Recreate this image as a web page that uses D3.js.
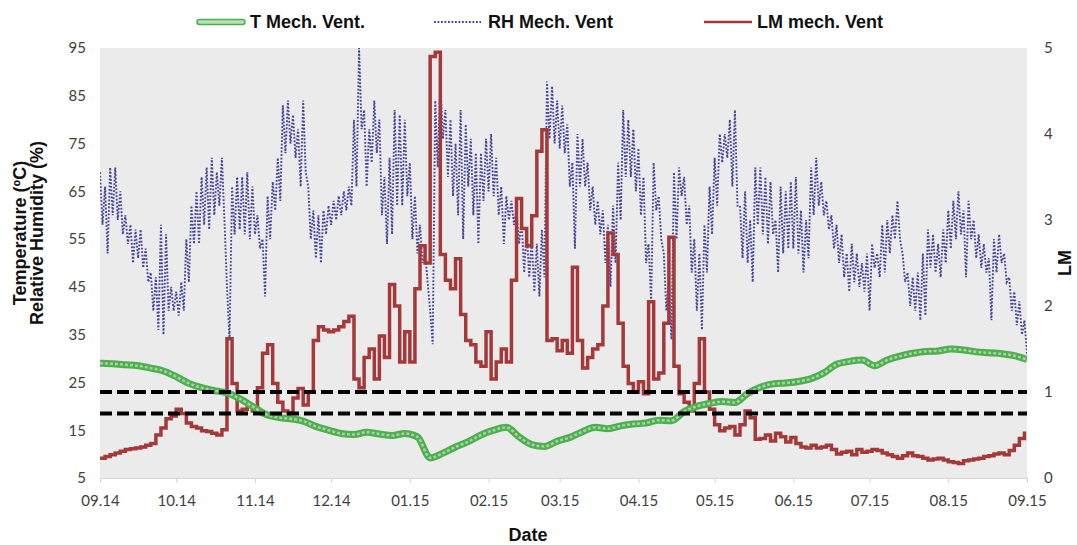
<!DOCTYPE html>
<html>
<head>
<meta charset="utf-8">
<script src="https://cdn.jsdelivr.net/npm/d3@7"></script>
<style>
body { margin: 0; background: #fff; }
svg text { font-family: Lato, "Open Sans", sans-serif; }
.title { font-family: "Liberation Sans", Arial, sans-serif; font-weight: bold; font-size: 18px; fill: #111; }
.axis text { font-size: 15px; fill: #404040; }
</style>
</head>
<body>
<svg width="1077" height="545"></svg>
<script>
// month ticks on the date axis
var monthLabels = ["09.14", "10.14", "11.14", "12.14", "01.15", "02.15", "03.15",
                   "04.15", "05.15", "06.15", "07.15", "08.15", "09.15"];
var leftTicks = [5, 15, 25, 35, 45, 55, 65, 75, 85, 95];
var rightTicks = [0, 1, 2, 3, 4, 5];
var lmLimits = [1, 0.75];

// T Mech. Vent. (ºC), one value every 5 days from 1 Sep 2014
var tStep = 5;
var tMechVent = [29.0,28.9,28.7,28.5,28.0,27.4,26.2,24.8,23.9,23.3,
  22.8,21.6,20.0,18.4,17.7,17.4,16.9,15.8,15.0,14.3,
  14.1,14.6,14.2,13.9,14.3,13.6,9.2,10.2,11.5,12.6,
  14.0,15.0,15.6,13.6,12.0,11.6,12.7,13.5,14.7,15.6,
  15.3,15.9,16.3,16.5,17.1,17.0,18.9,20.0,20.6,21.0,
  20.8,22.7,24.0,24.7,24.9,25.2,25.8,27.0,28.8,29.4,
  29.7,28.5,29.7,30.5,31.1,31.5,31.6,32.0,31.8,31.4,
  31.2,31.0,30.6,29.8];

// LM mech. Vent, one value every 2 days
var lmStep = 2;
var lmMechVent = [0.23,0.25,0.27,0.29,0.31,0.33,0.34,0.35,0.36,0.38,
  0.40,0.50,0.58,0.69,0.72,0.80,0.75,0.64,0.60,0.58,
  0.55,0.54,0.52,0.50,0.56,1.62,1.10,0.78,0.80,0.84,
  0.78,1.05,1.45,1.55,1.10,0.88,0.78,0.76,0.93,1.04,
  0.85,1.00,1.60,1.76,1.72,1.70,1.72,1.76,1.82,1.88,
  1.15,1.05,1.40,1.50,1.15,1.65,1.40,2.25,2.00,1.35,
  1.70,1.35,2.20,2.70,2.50,4.90,4.95,2.60,2.30,2.20,
  2.55,1.90,1.60,1.55,1.35,1.30,1.70,1.15,1.35,1.50,
  1.35,2.30,3.25,2.90,2.70,3.05,3.80,4.05,1.60,1.62,
  1.48,1.60,1.45,2.45,1.60,1.28,1.40,1.50,1.55,2.00,
  2.85,2.60,1.80,1.30,1.10,1.00,1.12,0.98,2.05,1.15,
  1.22,1.80,2.80,1.30,0.98,0.88,0.78,1.10,1.62,1.00,
  0.80,0.62,0.55,0.58,0.60,0.50,0.62,0.78,0.70,0.45,
  0.46,0.50,0.43,0.52,0.48,0.42,0.47,0.40,0.36,0.35,
  0.38,0.35,0.36,0.38,0.33,0.28,0.30,0.31,0.27,0.33,
  0.30,0.31,0.33,0.32,0.29,0.27,0.25,0.23,0.26,0.29,
  0.26,0.25,0.23,0.21,0.22,0.23,0.21,0.19,0.18,0.17,
  0.20,0.21,0.22,0.23,0.25,0.26,0.28,0.29,0.27,0.32,
  0.38,0.46,0.54];

// RH Mech. Vent (%), high and low every 2 days
var rhStep = 2;
var rhHigh = [69,66,70,70,65,60,58,57,57,53,
  48,47,58,56,45,44,46,55,62,65,
  68,70,72,69,72,45,66,68,68,69,
  66,60,55,64,67,72,83,84,81,78,
  84,66,61,60,61,62,63,64,65,66,
  80,95,82,78,84,80,68,72,82,81,
  80,71,64,58,52,40,84,88,82,80,
  75,82,79,76,73,73,76,77,72,66,
  64,63,61,59,57,55,54,57,88,87,
  84,83,79,71,77,76,71,66,63,61,
  58,62,71,82,80,78,74,68,54,71,
  64,52,47,69,70,68,62,55,52,58,
  66,72,77,77,80,82,62,65,59,70,
  70,68,67,59,66,65,67,68,61,59,
  70,72,67,63,60,58,56,52,54,52,
  50,52,54,52,58,59,60,63,52,48,
  47,48,52,57,56,54,57,61,63,65,
  61,63,59,56,54,51,55,56,52,47,
  44,42,38];
var rhLow = [58,52,60,59,56,54,50,51,49,46,
  40,36,35,40,40,39,40,46,54,54,
  58,57,60,62,59,34,56,57,56,55,
  56,53,43,55,61,63,73,75,72,66,
  69,55,51,50,56,58,59,60,61,62,
  66,78,66,71,73,60,54,56,62,62,
  64,55,52,50,46,33,70,76,68,64,
  60,55,66,60,54,63,65,64,60,54,
  59,58,54,48,47,44,43,47,76,75,
  74,73,66,53,66,66,61,58,56,50,
  45,50,59,68,68,65,60,50,42,61,
  55,40,34,55,64,58,48,40,36,48,
  56,62,71,72,66,62,51,50,46,58,
  56,54,56,48,52,53,53,52,48,51,
  60,62,60,57,53,50,47,44,46,45,
  44,40,49,47,48,52,55,55,46,41,
  40,38,39,49,48,47,50,53,55,56,
  47,55,51,49,48,38,48,50,46,40,
  37,35,31];

var startDate = new Date(2014, 8, 1),
    endDate = new Date(2015, 8, 1);

var svg = d3.select("svg"),
    margin = {top: 48, right: 50, bottom: 67, left: 100},
    width = +svg.attr("width") - margin.left - margin.right,
    height = +svg.attr("height") - margin.top - margin.bottom;

var x = d3.scaleTime().domain([startDate, endDate]).range([0, width]),
    y = d3.scaleLinear().domain([5, 95]).range([height, 0]),
    y2 = d3.scaleLinear().domain([0, 5]).range([height, 0]);

function day(n) { return d3.timeDay.offset(startDate, n); }

var g = svg.append("g")
    .attr("transform", "translate(" + margin.left + "," + margin.top + ")");

g.append("rect")
    .attr("width", width)
    .attr("height", height)
    .attr("fill", "#ebebeb");

g.append("clipPath").attr("id", "clip")
  .append("rect").attr("width", width).attr("height", height);

// axes
var months = monthLabels.map(function(d, i) { return d3.timeMonth.offset(startDate, i); });

var xAxis = g.append("g")
    .attr("class", "axis")
    .attr("transform", "translate(0," + height + ")")
    .call(d3.axisBottom(x).tickValues(months).tickSize(5).tickPadding(12)
      .tickFormat(function(d, i) { return monthLabels[i]; }));
xAxis.select(".domain").attr("stroke", "#d4d4d4");
xAxis.selectAll(".tick line").attr("stroke", "#d4d4d4");

var yAxis = g.append("g")
    .attr("class", "axis")
    .call(d3.axisLeft(y).tickValues(leftTicks).tickSize(0).tickPadding(14));
yAxis.select(".domain").remove();

var y2Axis = g.append("g")
    .attr("class", "axis")
    .attr("transform", "translate(" + width + ",0)")
    .call(d3.axisRight(y2).tickValues(rightTicks).tickSize(0).tickPadding(17)
      .tickFormat(d3.format("d")));
y2Axis.select(".domain").remove();

var plot = g.append("g").attr("clip-path", "url(#clip)");

// RH: alternate daily high / low
var rhPoints = [];
rhHigh.forEach(function(v, i) {
  rhPoints.push({d: i * rhStep, v: v});
  rhPoints.push({d: i * rhStep + 1, v: rhLow[i]});
});

var rhLine = d3.line()
    .x(function(p) { return x(day(p.d)); })
    .y(function(p) { return y(p.v); });

plot.append("path")
    .datum(rhPoints)
    .attr("fill", "none")
    .attr("stroke", "#45439a")
    .attr("stroke-width", 1.9)
    .attr("stroke-dasharray", "1.8,1.7")
    .attr("d", rhLine);

// LM on right axis
var lmLine = d3.line()
    .x(function(v, i) { return x(day(i * lmStep)); })
    .y(function(v) { return y2(v); })
    .curve(d3.curveStepAfter);

plot.append("path")
    .datum(lmMechVent)
    .attr("fill", "none")
    .attr("stroke", "#a5393a")
    .attr("stroke-width", 3.5)
    .attr("d", lmLine);

// T
var tLine = d3.line()
    .x(function(v, i) { return x(day(i * tStep)); })
    .y(function(v) { return y(v); })
    .curve(d3.curveMonotoneX);

plot.append("path")
    .datum(tMechVent)
    .attr("fill", "none")
    .attr("stroke", "#4fae4f")
    .attr("stroke-width", 7)
    .attr("d", tLine);
plot.append("path")
    .datum(tMechVent)
    .attr("fill", "none")
    .attr("stroke", "#9fd79f")
    .attr("stroke-width", 2.5)
    .attr("stroke-dasharray", "3,2")
    .attr("d", tLine);

// LM limits
g.selectAll(".limit")
  .data(lmLimits)
  .enter().append("line")
    .attr("class", "limit")
    .attr("x1", 0)
    .attr("x2", width)
    .attr("y1", function(d) { return y2(d); })
    .attr("y2", function(d) { return y2(d); })
    .attr("stroke", "#000")
    .attr("stroke-width", 4)
    .attr("stroke-dasharray", "12,5");

// titles
svg.append("text")
    .attr("class", "title")
    .attr("transform", "translate(26,233) rotate(-90)")
    .attr("text-anchor", "middle")
    .text("Temperature (ºC)");
svg.append("text")
    .attr("class", "title")
    .attr("transform", "translate(43,233) rotate(-90)")
    .attr("text-anchor", "middle")
    .text("Relative Humidity (%)");
svg.append("text")
    .attr("class", "title")
    .attr("transform", "translate(1071,263) rotate(-90)")
    .attr("text-anchor", "middle")
    .text("LM");
svg.append("text")
    .attr("class", "title")
    .attr("x", 528)
    .attr("y", 541)
    .attr("text-anchor", "middle")
    .text("Date");

// legend
var legend = svg.append("g");
legend.append("rect")
    .attr("x", 197).attr("y", 19.5).attr("width", 48).attr("height", 5).attr("rx", 2.5)
    .attr("fill", "#b7e0b7").attr("stroke", "#4fae4f").attr("stroke-width", 1.5);
legend.append("text").attr("class", "title").attr("x", 250).attr("y", 28).text("T Mech. Vent.");

legend.append("line")
    .attr("x1", 434).attr("x2", 481).attr("y1", 22).attr("y2", 22)
    .attr("stroke", "#45439a").attr("stroke-width", 1.9).attr("stroke-dasharray", "1.8,1.7");
legend.append("text").attr("class", "title").attr("x", 488).attr("y", 28).text("RH Mech. Vent");

legend.append("line")
    .attr("x1", 704).attr("x2", 752).attr("y1", 22).attr("y2", 22)
    .attr("stroke", "#a5393a").attr("stroke-width", 2.5);
legend.append("text").attr("class", "title").attr("x", 757).attr("y", 28).text("LM mech. Vent");
</script>
</body>
</html>
